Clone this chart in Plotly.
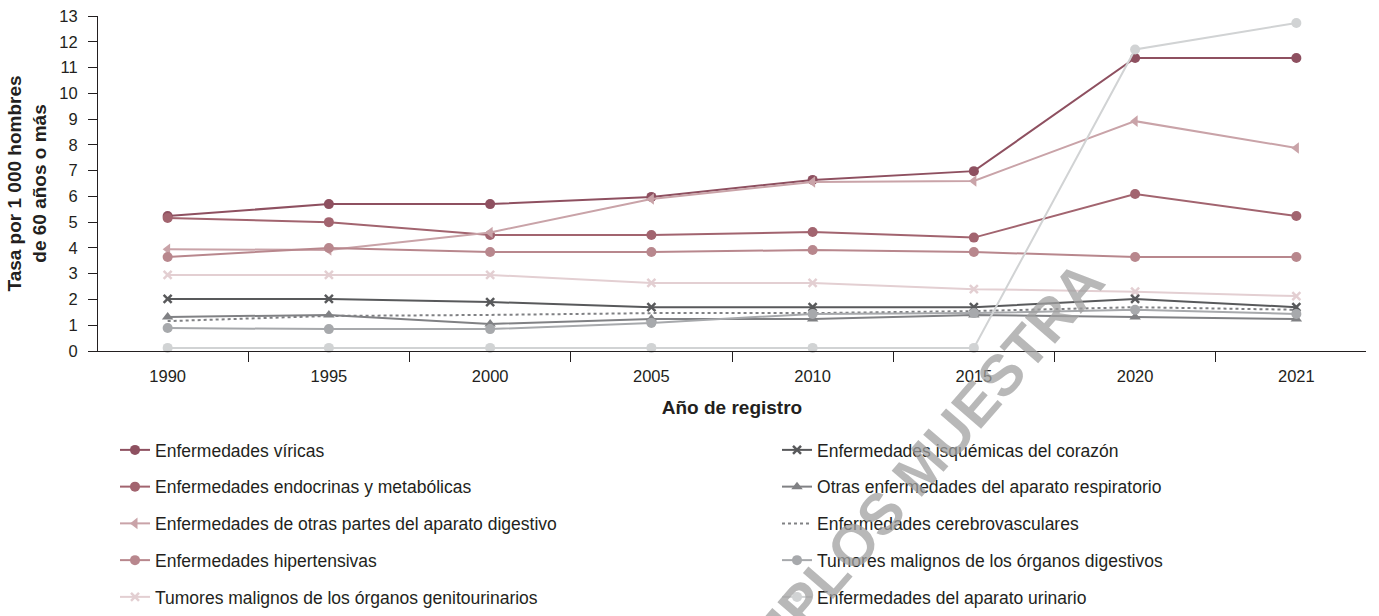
import plotly.graph_objects as go

# Categories (x axis)
anios = ["1990", "1995", "2000", "2005", "2010", "2015", "2020", "2021"]

# Series values (tasa por 1 000 hombres de 60 años o más)
viricas = [5.24, 5.70, 5.70, 5.98, 6.64, 6.98, 11.37, 11.37]
endocrinas = [5.16, 5.00, 4.50, 4.50, 4.62, 4.40, 6.09, 5.24]
otras_digestivo = [3.95, 3.92, 4.60, 5.90, 6.56, 6.60, 8.92, 7.88]
hipertensivas = [3.65, 4.00, 3.84, 3.84, 3.92, 3.84, 3.65, 3.65]
tumores_genitourinarios = [2.95, 2.95, 2.95, 2.64, 2.64, 2.40, 2.30, 2.13]
isquemicas = [2.02, 2.02, 1.90, 1.70, 1.70, 1.70, 2.02, 1.70]
respiratorio = [1.32, 1.40, 1.05, 1.24, 1.24, 1.40, 1.32, 1.24]
cerebrovasculares = [1.16, 1.36, 1.40, 1.47, 1.47, 1.55, 1.70, 1.60]
tumores_digestivos = [0.89, 0.85, 0.85, 1.09, 1.44, 1.47, 1.60, 1.44]
urinario = [0.12, 0.12, 0.12, 0.12, 0.12, 0.12, 11.70, 12.73]

TEXT = "#231F20"
FONT = "Liberation Sans, Arial, sans-serif"

# name, values, colour, marker symbol, dash, legend
series = [
    ("Enfermedades víricas", viricas, "#8E5060", "circle", "solid", "legend"),
    ("Enfermedades endocrinas y metabólicas", endocrinas, "#A2646F", "circle", "solid", "legend"),
    ("Enfermedades de otras partes del aparato digestivo", otras_digestivo, "#C9A3A8", "triangle-left", "solid", "legend"),
    ("Enfermedades hipertensivas", hipertensivas, "#B8878D", "circle", "solid", "legend"),
    ("Tumores malignos de los órganos genitourinarios", tumores_genitourinarios, "#E3CFD2", "x-thin-open", "solid", "legend"),
    ("Enfermedades isquémicas del corazón", isquemicas, "#58595B", "x-thin-open", "solid", "legend2"),
    ("Otras enfermedades del aparato respiratorio", respiratorio, "#808184", "triangle-up", "solid", "legend2"),
    ("Enfermedades cerebrovasculares", cerebrovasculares, "#808184", None, "dot", "legend2"),
    ("Tumores malignos de los órganos digestivos", tumores_digestivos, "#A7A9AC", "circle", "solid", "legend2"),
    ("Enfermedades del aparato urinario", urinario, "#D1D3D4", "circle", "solid", "legend2"),
]

fig = go.Figure()
for i, (name, vals, color, symbol, dash, leg) in enumerate(series):
    marker = dict(color=color, size=10)
    if symbol is None:
        mode = "lines"
    else:
        mode = "lines+markers"
        marker["symbol"] = symbol
        if symbol.startswith("x"):
            marker["size"] = 8
            marker["line"] = dict(color=color, width=2.5)
    fig.add_trace(go.Scatter(
        x=anios, y=vals, name=name, mode=mode,
        line=dict(color=color, width=2, dash=dash),
        marker=marker, legend=leg, legendgroup=f"g{i}",
        cliponaxis=False,
    ))

legend_style = dict(
    orientation="v", yanchor="top", xanchor="left", xref="paper", yref="container",
    font=dict(family=FONT, size=17.5, color=TEXT),
    tracegroupgap=11, itemwidth=30, bgcolor="rgba(0,0,0,0)",
)

fig.update_layout(
    width=1379, height=616,
    margin=dict(l=98, r=13, t=16, b=265, autoexpand=False),
    paper_bgcolor="white", plot_bgcolor="white",
    font=dict(family=FONT, size=16.5, color=TEXT),
    legend=dict(x=0.0134, y=0.2987, **legend_style),
    legend2=dict(x=0.5355, y=0.2987, **legend_style),
    xaxis=dict(
        type="category", tickson="boundaries", ticks="outside", ticklen=10,
        ticklabelstandoff=10, automargin=False,
        tickcolor=TEXT, showline=True, linecolor=TEXT, linewidth=1,
        showgrid=False, zeroline=False,
        title=dict(text="<b>Año de registro</b>", standoff=16,
                   font=dict(family=FONT, size=19, color=TEXT)),
    ),
    yaxis=dict(
        range=[0, 13], dtick=1, ticks="outside", ticklen=9, tickcolor=TEXT,
        ticklabelstandoff=7, automargin=False,
        showline=True, linecolor=TEXT, linewidth=1, showgrid=False, zeroline=False,
        title=dict(text="<b>Tasa por 1 000 hombres<br>de 60 años o más</b>", standoff=7,
                   font=dict(family=FONT, size=19, color=TEXT)),
    ),
)

# watermark
fig.add_annotation(
    text="<b>EJEMPLOS MUESTRA</b>", xref="paper", yref="paper",
    x=0.6239, y=-0.4567, xanchor="center", yanchor="middle",
    showarrow=False, textangle=-49,
    font=dict(family=FONT, size=58, color="rgba(160,160,160,0.75)"),
)

# drop the default body margin so the figure sits at the window's corner
fig.write_html("out.html", config={"displayModeBar": False},
               post_script="document.body.style.margin = '0';")
